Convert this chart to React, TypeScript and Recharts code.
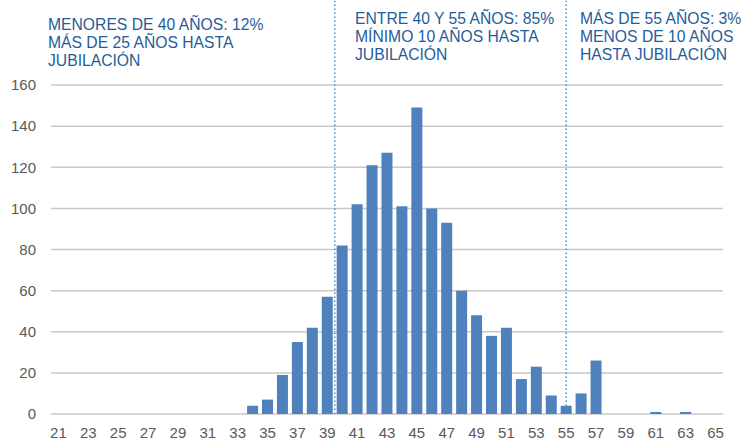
import React from 'react';
import {
  BarChart,
  Bar,
  XAxis,
  YAxis,
  CartesianGrid,
  ReferenceLine,
} from 'recharts';

// Edad (categorías del eje X)
const ages = [
  21, 22, 23, 24, 25, 26, 27, 28, 29, 30, 31, 32, 33, 34, 35, 36, 37, 38, 39, 40, 41, 42, 43,
  44, 45, 46, 47, 48, 49, 50, 51, 52, 53, 54, 55, 56, 57, 58, 59, 60, 61, 62, 63, 64, 65,
];

// Número de personas por edad
const counts = [
  0, 0, 0, 0, 0, 0, 0, 0, 0, 0, 0, 0, 0, 4, 7, 19, 35, 42, 57, 82, 102, 121, 127,
  101, 149, 100, 93, 60, 48, 38, 42, 17, 23, 9, 4, 10, 26, 0, 0, 0, 1, 0, 1, 0, 0,
];

const yTicks = [0, 20, 40, 60, 80, 100, 120, 140, 160];

// Límites de los tramos (líneas punteadas): 40 al inicio de la barra, 55 en su centro
const boundaries = [
  { age: '40', position: 'start' },
  { age: '55', position: 'middle' },
];

const annotations = [
  { lines: ['MENORES DE 40 AÑOS: 12%', 'MÁS DE 25 AÑOS HASTA', 'JUBILACIÓN'], left: 48, top: 16 },
  { lines: ['ENTRE 40 Y 55 AÑOS: 85%', 'MÍNIMO 10 AÑOS HASTA', 'JUBILACIÓN'], left: 355, top: 9.5 },
  { lines: ['MÁS DE 55 AÑOS: 3%', 'MENOS DE 10 AÑOS', 'HASTA JUBILACIÓN'], left: 580, top: 9.5 },
];

const data = ages.map((age, i) => ({ age: String(age), value: counts[i] }));

const tickStyle = { fill: '#595959', fontSize: 15, fontFamily: 'Liberation Sans, Arial, sans-serif' };

export default function App() {
  return (
    <div style={{ position: 'absolute', left: 0, top: 0, width: 751, height: 441, background: '#fff' }}>
      <BarChart
        width={751}
        height={441}
        data={data}
        margin={{ top: 85, right: 28, left: 0, bottom: 0 }}
        barCategoryGap="13%"
      >
        <CartesianGrid vertical={false} stroke="#c8c8c8" strokeWidth={1.5} />
        <XAxis
          dataKey="age"
          interval={1}
          axisLine={false}
          tickLine={false}
          tickMargin={7}
          height={27}
          tick={tickStyle}
        />
        <YAxis
          domain={[0, 160]}
          ticks={yTicks}
          axisLine={false}
          tickLine={false}
          tickMargin={9}
          width={51}
          tick={tickStyle}
        />
        <Bar dataKey="value" fill="#4f81bd" isAnimationActive={false} />
        {boundaries.map((b) => (
          <ReferenceLine
            key={b.age}
            position={b.position as any}
            segment={[
              { x: b.age, y: 0 },
              { x: b.age, y: 201 },
            ]}
            ifOverflow="visible"
            stroke="#3a8fd3"
            strokeWidth={1.5}
            strokeDasharray="1.5 2.5"
          />
        ))}
      </BarChart>
      {annotations.map((a, i) => (
        <div
          key={i}
          style={{
            position: 'absolute',
            left: a.left,
            top: a.top,
            color: '#1f5d99',
            fontFamily: 'Liberation Sans, Arial, sans-serif',
            fontSize: 15.7,
            lineHeight: '18px',
            whiteSpace: 'nowrap',
          }}
        >
          {a.lines.map((l) => (
            <div key={l}>{l}</div>
          ))}
        </div>
      ))}
    </div>
  );
}
